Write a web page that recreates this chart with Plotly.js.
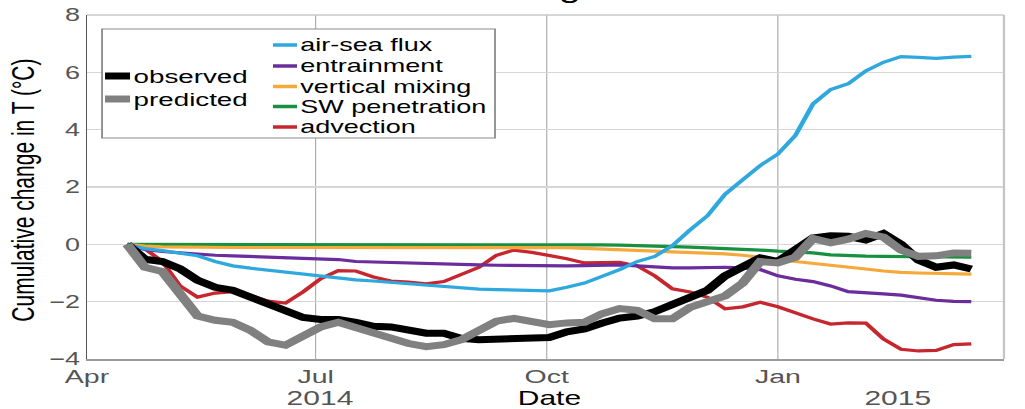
<!DOCTYPE html>
<html>
<head>
<meta charset="utf-8">
<script src="https://cdn.plot.ly/plotly-3.0.1.min.js"></script>
<style>
  html, body { margin: 0; padding: 0; background: #fff; overflow: hidden; }
  #wrap { width: 1025px; height: 409px; overflow: hidden; }
  /* the figure is laid out narrow and widened horizontally */
  #chart { width: 683px; height: 409px; transform: scaleX(1.5007); transform-origin: 0 0; }
</style>
</head>
<body>
<div id="wrap"><div id="chart"></div></div>
<script>
// weekly sample dates
const dates = [
  '2014-04-17','2014-04-24','2014-05-01','2014-05-08','2014-05-15','2014-05-22','2014-05-29',
  '2014-06-05','2014-06-12','2014-06-19','2014-06-26','2014-07-03','2014-07-10','2014-07-17',
  '2014-07-24','2014-07-31','2014-08-07','2014-08-14','2014-08-21','2014-08-28','2014-09-04',
  '2014-09-11','2014-09-18','2014-09-25','2014-10-02','2014-10-09','2014-10-16','2014-10-23',
  '2014-10-30','2014-11-06','2014-11-13','2014-11-20','2014-11-27','2014-12-04','2014-12-11',
  '2014-12-18','2014-12-25','2015-01-01','2015-01-08','2015-01-15','2015-01-22','2015-01-29',
  '2015-02-05','2015-02-12','2015-02-19','2015-02-26','2015-03-05','2015-03-12','2015-03-19'
];

// cumulative temperature change per budget term (°C)
const airSeaFlux = [
  0, -0.15, -0.22, -0.3, -0.4, -0.6, -0.75, -0.83, -0.9, -0.98, -1.04, -1.1, -1.17, -1.24,
  -1.28, -1.33, -1.37, -1.43, -1.48, -1.53, -1.56, -1.58, -1.59, -1.6, -1.62, -1.5, -1.35, -1.12,
  -0.88, -0.6, -0.42, -0.05, 0.5, 1.0, 1.75, 2.25, 2.75, 3.15, 3.8, 4.9, 5.4, 5.6,
  6.05, 6.35, 6.55, 6.52, 6.49, 6.53, 6.56
];
const entrainment = [
  0, -0.18, -0.25, -0.3, -0.35, -0.38, -0.4, -0.42, -0.44, -0.46, -0.48, -0.5, -0.53, -0.6,
  -0.62, -0.63, -0.65, -0.67, -0.69, -0.7, -0.72, -0.73, -0.74, -0.75, -0.75, -0.75, -0.74, -0.73,
  -0.72, -0.75, -0.78, -0.82, -0.82, -0.8, -0.8, -0.82, -0.88, -1.1, -1.22, -1.3, -1.45, -1.65,
  -1.7, -1.73, -1.77, -1.85, -1.95, -1.99, -2.0
];
const verticalMixing = [
  0, -0.06, -0.09, -0.1, -0.11, -0.11, -0.11, -0.11, -0.11, -0.11, -0.11, -0.11, -0.11, -0.11,
  -0.11, -0.11, -0.11, -0.11, -0.11, -0.11, -0.11, -0.12, -0.12, -0.12, -0.12, -0.12, -0.14, -0.17,
  -0.2, -0.22, -0.24, -0.26, -0.28, -0.3, -0.33, -0.38, -0.44, -0.52, -0.6, -0.66, -0.74, -0.8,
  -0.86, -0.93, -0.98, -1.0, -1.02, -1.03, -1.04
];
const swPenetration = [
  0, 0, 0, 0, 0, 0, 0, 0, 0, 0, 0, 0, 0, 0,
  0, 0, 0, 0, 0, 0, -0.01, -0.01, -0.01, -0.01, -0.01, -0.02, -0.02, -0.02,
  -0.03, -0.04, -0.06, -0.08, -0.1, -0.12, -0.14, -0.17, -0.2, -0.24, -0.27, -0.3, -0.37, -0.4,
  -0.41, -0.42, -0.43, -0.44, -0.44, -0.45, -0.45
];
const advection = [
  0, -0.15, -0.6, -1.45, -1.84, -1.7, -1.65, -1.78, -1.98, -2.05, -1.66, -1.2, -0.92, -0.93,
  -1.14, -1.28, -1.32, -1.38, -1.3, -1.05, -0.8, -0.38, -0.2, -0.28, -0.38, -0.5, -0.65, -0.63,
  -0.63, -0.75, -1.1, -1.55, -1.66, -1.85, -2.25, -2.18, -2.02, -2.18, -2.4, -2.6, -2.78, -2.74,
  -2.75, -3.3, -3.66, -3.72, -3.7, -3.5, -3.47
];
const observed = [
  0, -0.52, -0.6, -0.85, -1.25, -1.5, -1.6, -1.85, -2.1, -2.35, -2.55, -2.62, -2.62, -2.72,
  -2.86, -2.88, -3.0, -3.1, -3.1, -3.28, -3.33, -3.3, -3.27, -3.27, -3.25, -3.05, -2.95, -2.75,
  -2.57, -2.5, -2.35, -2.1, -1.83, -1.6, -1.1, -0.82, -0.47, -0.6, -0.2, 0.22, 0.3, 0.28,
  0.15, 0.38, 0.0, -0.55, -0.8, -0.72, -0.86
];
const predicted = [
  0, -0.8, -0.95, -1.75, -2.5, -2.65, -2.72, -3.0, -3.4, -3.52, -3.16, -2.88, -2.72, -2.9,
  -3.12, -3.25, -3.46, -3.57, -3.5, -3.33, -3.0, -2.68, -2.58, -2.68, -2.8, -2.74, -2.72, -2.42,
  -2.24, -2.3, -2.6, -2.6, -2.2, -2.0, -1.8, -1.35, -0.6, -0.65, -0.45, 0.2, 0.05, 0.18,
  0.38, 0.25, -0.2, -0.42, -0.4, -0.3, -0.31
];

// axis ticks and labels
const xTickVals = ['2014-04-01', '2014-07-01', '2014-10-01', '2015-01-01', '2015-04-01'];
const xTickText = ['Apr', 'Jul', 'Oct', 'Jan', 'Apr'];
const yTickVals = [-4, -2, 0, 2, 4, 6, 8];
const yearText = ['2014', '2015'];
const yearDates = ['2014-07-03', '2015-02-18'];

const FONT = 'Liberation Sans, Arial, Helvetica, sans-serif';

const terms = [
  { name: 'air-sea flux',    y: airSeaFlux,     color: '#2fa8de' },
  { name: 'entrainment',     y: entrainment,    color: '#6b2c9c' },
  { name: 'vertical mixing', y: verticalMixing, color: '#f6a93b' },
  { name: 'SW penetration',  y: swPenetration,  color: '#17913f' },
  { name: 'advection',       y: advection,      color: '#c6262e' }
];
const totals = [
  { name: 'observed',  y: observed,  color: '#000000' },
  { name: 'predicted', y: predicted, color: '#808080' }
];

// drawing order: thin terms underneath, the two totals on top
const drawOrder = [4, 3, 2, 1, 0];
const traces = [];
drawOrder.forEach(i => {
  const t = terms[i];
  traces.push({ x: dates, y: t.y, name: t.name, type: 'scatter', mode: 'lines',
    line: { color: t.color, width: 3.2 }, showlegend: false, hoverinfo: 'skip' });
});
totals.forEach(t => {
  traces.push({ x: dates, y: t.y, name: t.name, type: 'scatter', mode: 'lines',
    line: { color: t.color, width: 7 }, showlegend: false, hoverinfo: 'skip' });
});

// plot-area pixel geometry (in screen pixels) used to place the legend block
const PL = 87, PR = 1004, PT = 15, PB = 359;
const px = X => (X - PL) / (PR - PL);
const py = Y => (PB - Y) / (PB - PT);

const shapes = [
  // light frame on top and right
  { type: 'line', xref: 'paper', yref: 'paper', x0: 0, x1: 1, y0: 1, y1: 1,
    line: { color: '#c8c8c8', width: 1.5 } },
  { type: 'line', xref: 'paper', yref: 'paper', x0: 1, x1: 1, y0: 0, y1: 1,
    line: { color: '#c4c4c4', width: 1.5 } },
  // legend box
  { type: 'rect', xref: 'paper', yref: 'paper', layer: 'above',
    x0: px(102), x1: px(495), y0: py(138), y1: py(29),
    fillcolor: '#ffffff', line: { color: '#8a8a8a', width: 1.2 } }
];
const annotations = [];

// legend: totals on the left, budget terms on the right
const leftRows = [76, 99];
totals.forEach((t, i) => {
  shapes.push({ type: 'line', xref: 'paper', yref: 'paper', layer: 'above',
    x0: px(105), x1: px(130), y0: py(leftRows[i]), y1: py(leftRows[i]),
    line: { color: t.color, width: 7 } });
  annotations.push({ xref: 'paper', yref: 'paper', x: px(132), y: py(leftRows[i]),
    xanchor: 'left', yanchor: 'middle', showarrow: false, text: t.name,
    borderpad: 0, font: { family: FONT, size: 18.5, color: '#000' } });
});
const rightRows = [45, 66, 86.5, 106.5, 127];
terms.forEach((t, i) => {
  shapes.push({ type: 'line', xref: 'paper', yref: 'paper', layer: 'above',
    x0: px(273), x1: px(297), y0: py(rightRows[i]), y1: py(rightRows[i]),
    line: { color: t.color, width: 3.5 } });
  annotations.push({ xref: 'paper', yref: 'paper', x: px(299), y: py(rightRows[i]),
    xanchor: 'left', yanchor: 'middle', showarrow: false, text: t.name,
    borderpad: 0, font: { family: FONT, size: 18, color: '#000' } });
});

// year labels under the month ticks, and the axis name
yearText.forEach((s, i) => {
  annotations.push({ xref: 'x', yref: 'paper', x: yearDates[i], y: py(397.5),
    xanchor: 'center', yanchor: 'middle', showarrow: false, text: s,
    borderpad: 0, font: { family: FONT, size: 20, color: '#555' } });
});
annotations.push({ xref: 'paper', yref: 'paper', x: px(550), y: py(397.5),
  xanchor: 'center', yanchor: 'middle', showarrow: false, text: 'Date',
  borderpad: 0, font: { family: FONT, size: 20, color: '#000' } });

// y-axis title
annotations.push({ xref: 'paper', yref: 'paper', x: px(22), y: py(190),
  xanchor: 'center', yanchor: 'middle', showarrow: false, textangle: -90,
  text: 'Cumulative change in T (°C)',
  font: { family: FONT, size: 21, color: '#000' } });

// figure title, sitting above the top edge
annotations.push({ xref: 'paper', yref: 'paper', x: px(507), y: py(6),
  xanchor: 'center', yanchor: 'bottom', showarrow: false, text: 'Heat budget',
  font: { family: FONT, size: 26, color: '#000' } });

const layout = {
  width: 683, height: 409,
  margin: { l: 58, r: 14, t: 15, b: 50, pad: 0 },
  paper_bgcolor: '#ffffff', plot_bgcolor: '#ffffff',
  showlegend: false,
  xaxis: {
    type: 'date', range: ['2014-04-01', '2015-04-01'],
    tickmode: 'array', tickvals: xTickVals, ticktext: xTickText,
    showgrid: true, gridcolor: '#a4a4a4', gridwidth: 0.7,
    showline: true, linecolor: '#9a9a9a', linewidth: 1.5,
    ticks: '', zeroline: false,
    tickfont: { family: FONT, size: 19, color: '#555' }
  },
  yaxis: {
    range: [-4, 8], tickmode: 'array', tickvals: yTickVals,
    showgrid: true, gridcolor: '#d6d6d6', gridwidth: 1.2,
    showline: true, linecolor: '#555', linewidth: 1,
    ticks: '', zeroline: false,
    tickfont: { family: FONT, size: 18, color: '#555' }
  },
  shapes: shapes,
  annotations: annotations
};

Plotly.newPlot('chart', traces, layout, { staticPlot: true, displayModeBar: false });
</script>
</body>
</html>
